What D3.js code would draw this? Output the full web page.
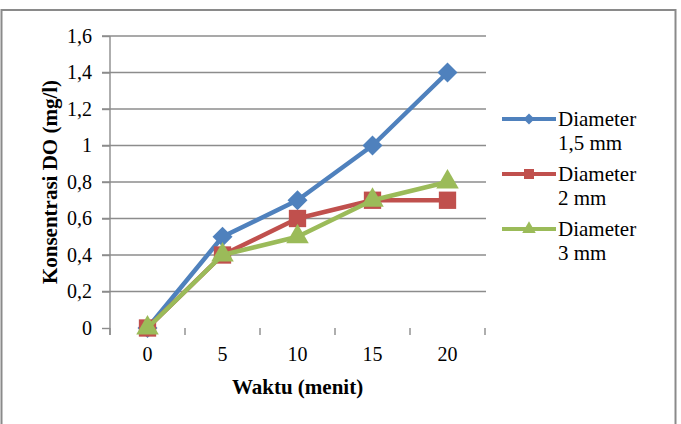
<!DOCTYPE html>
<html>
<head>
<meta charset="utf-8">
<script src="https://cdn.jsdelivr.net/npm/d3@7"></script>
<style>
  body { margin: 0; background: #fff; }
  svg text { font-family: "Liberation Serif", "Times New Roman", serif; fill: #000; }
</style>
</head>
<body>
<svg id="chart"></svg>
<script>
// waktu (menit) and DO concentration per diameter
var categories = ["0", "5", "10", "15", "20"];
var d15 = [0, 0.5, 0.7, 1.0, 1.4];
var d2 = [0, 0.4, 0.6, 0.7, 0.7];
var d3mm = [0, 0.4, 0.5, 0.7, 0.8];
var yTicks = [0, 0.2, 0.4, 0.6, 0.8, 1, 1.2, 1.4, 1.6];
var yTickLabels = ["0", "0,2", "0,4", "0,6", "0,8", "1", "1,2", "1,4", "1,6"];
var seriesNames = [["Diameter", "1,5 mm"], ["Diameter", "2 mm"], ["Diameter", "3 mm"]];

var series = [
  {name: seriesNames[0], values: d15, color: "#4f81bd", shape: "diamond"},
  {name: seriesNames[1], values: d2, color: "#c0504d", shape: "square"},
  {name: seriesNames[2], values: d3mm, color: "#9bbb59", shape: "triangle"}
];

var svg = d3.select("#chart").attr("width", 681).attr("height", 424);

svg.append("rect")
    .attr("x", 1.5).attr("y", 10)
    .attr("width", 674).attr("height", 440)
    .attr("fill", "#fff")
    .attr("stroke", "#8a8a8a")
    .attr("stroke-width", 2);

var pLeft = 110, pRight = 485, pTop = 36, pBottom = 328;

var x = d3.scaleBand().domain(categories).range([pLeft, pRight]);
var y = d3.scaleLinear().domain([0, 1.6]).range([pBottom, pTop]);

// gridlines
svg.append("g")
    .selectAll("line")
    .data(yTicks.slice(1))
    .enter().append("line")
    .attr("x1", pLeft - 8).attr("x2", pRight + 1)
    .attr("y1", function(d) { return y(d); })
    .attr("y2", function(d) { return y(d); })
    .attr("stroke", "#8c8c8c")
    .attr("stroke-width", 1.4);

// y axis
var yAxis = svg.append("g")
    .attr("transform", "translate(" + pLeft + ",0)")
    .call(d3.axisLeft(y).tickValues(yTicks)
      .tickFormat(function(d, i) { return yTickLabels[i]; })
      .tickSize(8).tickSizeOuter(0).tickPadding(10));
yAxis.select(".domain").remove();
yAxis.selectAll(".tick line").attr("stroke", "#8c8c8c").attr("stroke-width", 1.4);
yAxis.selectAll(".tick text").attr("font-size", 20)
    .style("font-family", "'Liberation Serif', serif");
svg.append("line")
    .attr("x1", pLeft).attr("x2", pLeft)
    .attr("y1", pTop).attr("y2", pBottom + 7)
    .attr("stroke", "#8c8c8c").attr("stroke-width", 1.4);

// x axis labels (ticks sit between categories)
var xAxis = svg.append("g")
    .attr("transform", "translate(0," + pBottom + ")")
    .call(d3.axisBottom(x).tickSize(0).tickPadding(19));
xAxis.select(".domain").remove();
xAxis.selectAll(".tick text").attr("font-size", 20)
    .style("font-family", "'Liberation Serif', serif");

svg.append("g")
    .selectAll("line")
    .data(categories.map(function(c) { return x(c); }).concat([pRight]))
    .enter().append("line")
    .attr("x1", function(d) { return d; }).attr("x2", function(d) { return d; })
    .attr("y1", pBottom).attr("y2", pBottom + 7)
    .attr("stroke", "#8c8c8c").attr("stroke-width", 1.4);

// axis titles
svg.append("text")
    .attr("x", (pLeft + pRight) / 2).attr("y", 394)
    .attr("text-anchor", "middle")
    .attr("font-size", 21).attr("font-weight", "bold")
    .text("Waktu (menit)");

svg.append("text")
    .attr("transform", "translate(57," + (pTop + pBottom) / 2 + ") rotate(-90)")
    .attr("text-anchor", "middle")
    .attr("font-size", 21).attr("font-weight", "bold")
    .text("Konsentrasi DO (mg/l)");

function symbolPath(shape, big) {
  if (shape == "diamond") return d3.symbol().type(d3.symbolSquare).size(big ? 200 : 60)();
  if (shape == "square") return d3.symbol().type(d3.symbolSquare).size(big ? 300 : 100)();
  return d3.symbol().type(d3.symbolTriangle).size(big ? 220 : 80)();
}
function symbolRot(shape) { return shape == "diamond" ? " rotate(45)" : ""; }

var line = d3.line()
    .x(function(d, i) { return x(categories[i]) + x.bandwidth() / 2; })
    .y(function(d) { return y(d); });

series.forEach(function(s) {
  svg.append("path")
      .datum(s.values)
      .attr("fill", "none")
      .attr("stroke", s.color)
      .attr("stroke-width", 4.5)
      .attr("stroke-linejoin", "round")
      .attr("d", line);
  svg.append("g").selectAll("path")
      .data(s.values)
      .enter().append("path")
      .attr("transform", function(d, i) {
        return "translate(" + (x(categories[i]) + x.bandwidth() / 2) + "," + y(d) + ")" + symbolRot(s.shape);
      })
      .attr("d", symbolPath(s.shape, true))
      .attr("fill", s.color);
});

// legend
var legend = svg.append("g")
    .selectAll("g")
    .data(series)
    .enter().append("g")
    .attr("transform", function(d, i) { return "translate(502," + (119 + i * 55) + ")"; });

legend.append("line")
    .attr("x1", 0).attr("x2", 54)
    .attr("stroke", function(d) { return d.color; })
    .attr("stroke-width", 4);
legend.append("path")
    .attr("transform", function(d) { return "translate(27,0)" + symbolRot(d.shape); })
    .attr("d", function(d) { return symbolPath(d.shape, false); })
    .attr("fill", function(d) { return d.color; });
legend.append("text")
    .attr("x", 56).attr("y", 7)
    .attr("font-size", 21)
    .text(function(d) { return d.name[0]; });
legend.append("text")
    .attr("x", 56).attr("y", 31)
    .attr("font-size", 21)
    .text(function(d) { return d.name[1]; });
</script>
</body>
</html>
